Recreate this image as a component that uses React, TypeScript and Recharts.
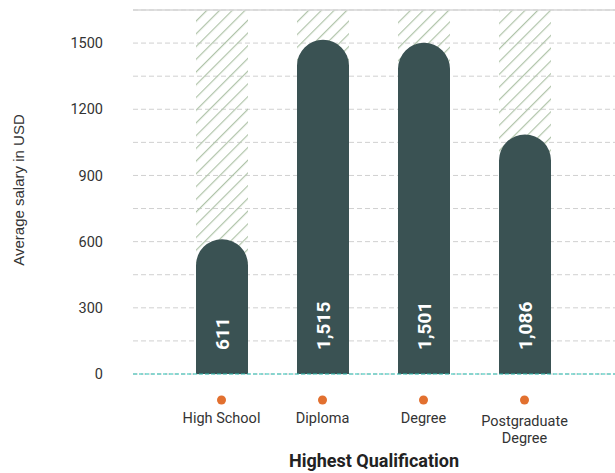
import React from 'react';
import { BarChart, Bar, XAxis, YAxis, CartesianGrid, ReferenceLine, LabelList, Label } from 'recharts';

const categories = ['High School', 'Diploma', 'Degree', 'Postgraduate Degree'];
const salaries = [611, 1515, 1501, 1086];
const yTicks = [0, 150, 300, 450, 600, 750, 900, 1050, 1200, 1350, 1500, 1650];
const yLabelTicks = [0, 300, 600, 900, 1200, 1500];

const data = categories.map((c, i) => ({ name: c, value: salaries[i] }));

const BAR_COLOR = '#3a5253';

const XTick = (props: any) => {
  const { x, y, payload } = props;
  const label: string = payload.value;
  const words = label.split(' ');
  const lines = label.length > 12 ? words : [label];
  return (
    <g>
      <circle cx={x} cy={y + 26} r={4.5} fill="#e2702f" />
      {lines.length === 1 ? (
        <text x={x} y={y + 44} textAnchor="middle" dominantBaseline="central" fontSize={14.5} fill="#333" fontFamily="Roboto">
          {label}
        </text>
      ) : (
        <text x={x} y={y + 47} textAnchor="middle" dominantBaseline="central" fontSize={14.5} fill="#333" fontFamily="Roboto">
          {lines.map((l, i) => (
            <tspan key={i} x={x} dy={i === 0 ? 0 : 17}>{l}</tspan>
          ))}
        </text>
      )}
    </g>
  );
};

const ValueLabel = (props: any) => {
  const { x, y, width, height, value } = props;
  const cx = x + width / 2;
  const by = y + height - 24;
  return (
    <text
      x={cx}
      y={by}
      transform={`rotate(-90 ${cx} ${by})`}
      textAnchor="start"
      dominantBaseline="central"
      fill="#ffffff"
      fontSize={19}
      fontWeight="bold"
      fontFamily="Roboto"
    >
      {Number(value).toLocaleString('en-US')}
    </text>
  );
};

const YLabel = () => {
  const cx = 18;
  const cy = 190;
  return (
    <text
      x={cx}
      y={cy}
      transform={`rotate(-90 ${cx} ${cy})`}
      textAnchor="middle"
      dominantBaseline="central"
      fontSize={15}
      fill="#333"
      fontFamily="Liberation Sans, Arial, sans-serif"
    >
      Average salary in USD
    </text>
  );
};

export default function App() {
  return (
    <div style={{ position: 'absolute', left: 0, top: 0, width: 615, height: 473, background: '#fff' }}>
      <BarChart width={615} height={473} data={data} margin={{ top: 10, right: 0, bottom: 0, left: 0 }} barSize={52}>
        <defs>
          <pattern id="hatch" patternUnits="userSpaceOnUse" width="9" height="9" patternTransform="rotate(45)">
            <line x1="0" y1="0" x2="0" y2="9" stroke="#b0c4aa" strokeWidth="2.4" />
          </pattern>
        </defs>
        <CartesianGrid vertical={false} stroke="#d0d0d0" strokeDasharray="5 3" />
        <ReferenceLine y={1650} stroke="#d6d6d6" strokeWidth={1.5} />
        <XAxis
          dataKey="name"
          axisLine={false}
          tickLine={false}
          tickSize={0}
          tickMargin={0}
          height={99}
          interval={0}
          padding={{ left: 38, right: 40 }}
          tick={<XTick />}
        >
          <Label
            value="Highest Qualification"
            position="insideBottom"
            offset={6}
            style={{ fontSize: 18, fontWeight: 'bold', fill: '#222', fontFamily: 'Roboto' }}
          />
        </XAxis>
        <YAxis
          width={133}
          domain={[0, 1650]}
          ticks={yTicks}
          interval={0}
          axisLine={false}
          tickLine={false}
          tickSize={0}
          tickMargin={30}
          tickFormatter={(v: number) => (yLabelTicks.includes(v) ? String(v) : '')}
          tick={{ fontSize: 14.5, fill: '#333', fontFamily: 'Roboto' }}
        >
          <Label content={<YLabel />} />
        </YAxis>
        <Bar
          dataKey="value"
          fill={BAR_COLOR}
          radius={[26, 26, 0, 0]}
          background={{ fill: 'url(#hatch)' }}
          isAnimationActive={false}
        >
          <LabelList dataKey="value" content={<ValueLabel />} />
        </Bar>
        <ReferenceLine y={0} stroke="#2bbfb3" strokeDasharray="4 2" />
      </BarChart>
    </div>
  );
}
